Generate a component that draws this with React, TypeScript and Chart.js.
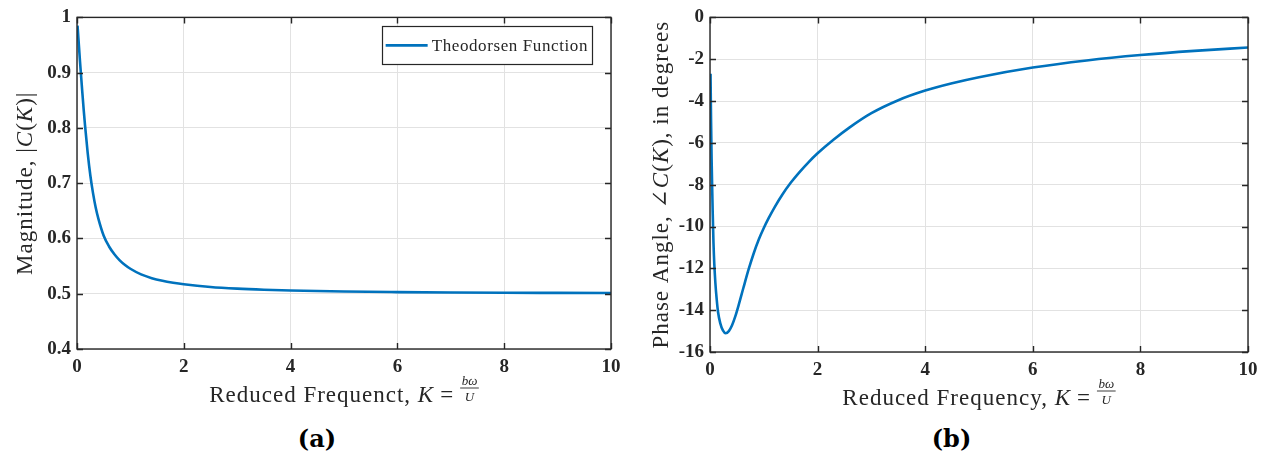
import React, { useEffect, useRef } from "react";
import { Chart, registerables } from "chart.js";

Chart.register(...registerables);

// ---------- data ----------
const magK = [0.01, 0.02, 0.03, 0.04, 0.055, 0.075, 0.1, 0.125, 0.15, 0.2, 0.25, 0.3, 0.35, 0.4, 0.5, 0.6, 0.7, 0.8, 0.9, 1.0, 1.2, 1.4, 1.6, 1.8, 2.0, 2.5, 3.0, 3.5, 4.0, 5.0, 6.0, 7.0, 8.0, 9.0, 10.0];
const magValues = [0.985, 0.971, 0.957, 0.943, 0.922, 0.896, 0.864, 0.833, 0.805, 0.755, 0.714, 0.682, 0.656, 0.636, 0.605, 0.5855, 0.5715, 0.5605, 0.552, 0.5452, 0.535, 0.5282, 0.5235, 0.52, 0.5172, 0.5122, 0.5092, 0.5072, 0.5058, 0.504, 0.503, 0.5023, 0.5018, 0.5015, 0.5012];

const phaseK = [0.01, 0.015, 0.02, 0.03, 0.04, 0.05, 0.065, 0.08, 0.1, 0.125, 0.15, 0.19, 0.24, 0.29, 0.35, 0.41, 0.47, 0.53, 0.62, 0.72, 0.81, 0.91, 1.0, 1.09, 1.2, 1.34, 1.5, 1.66, 1.83, 2.0, 2.3, 2.59, 3.0, 3.5, 4.0, 4.5, 5.0, 6.0, 7.0, 8.0, 9.0, 10.0];
const phaseValues = [-2.7, -3.9, -5.0, -6.8, -8.1, -9.3, -10.8, -11.8, -12.7, -13.5, -14.1, -14.62, -14.97, -15.1, -15.0, -14.72, -14.3, -13.78, -12.94, -12.03, -11.3, -10.6, -10.07, -9.6, -9.08, -8.49, -7.91, -7.41, -6.93, -6.5, -5.84, -5.27, -4.58, -3.96, -3.5, -3.15, -2.86, -2.4, -2.06, -1.8, -1.6, -1.44];

const xTicks = [0, 2, 4, 6, 8, 10];
const magTicks = [0.4, 0.5, 0.6, 0.7, 0.8, 0.9, 1];
const phaseTicks = [-16, -14, -12, -10, -8, -6, -4, -2, 0];

const seriesLabel = "Theodorsen Function";
const captions = ["(a)", "(b)"];

// ---------- styles ----------
const LINE_COLOR = "#0072BD";
const AXIS_COLOR = "#262626";
const GRID_COLOR = "#e2e2e2";
const TICK_FONT = { family: "'Liberation Serif', 'Times New Roman', serif", size: 19, weight: "bold" as const };
const TITLE_FAMILY = "'Liberation Serif', 'DejaVu Serif', serif";
const TITLE_SIZE = 23;
const TITLE_SPACING = "1px";

type Seg = { t?: string; it?: boolean; frac?: [string, string]; gap?: number };

function setFont(ctx: CanvasRenderingContext2D, s: Seg) {
  if (s.frac) {
    ctx.font = `italic 13px ${TITLE_FAMILY}`;
    (ctx as any).letterSpacing = "0px";
  } else {
    ctx.font = `${s.it ? "italic " : ""}${TITLE_SIZE}px ${TITLE_FAMILY}`;
    (ctx as any).letterSpacing = TITLE_SPACING;
  }
}

function segWidth(ctx: CanvasRenderingContext2D, s: Seg): number {
  if (s.gap) return s.gap;
  setFont(ctx, s);
  if (s.frac) {
    return Math.max(ctx.measureText(s.frac[0]).width, ctx.measureText(s.frac[1]).width) + 3;
  }
  return ctx.measureText(s.t || "").width;
}

function drawMixed(ctx: CanvasRenderingContext2D, segs: Seg[], cx: number, baseline: number) {
  const total = segs.reduce((a, s) => a + segWidth(ctx, s), 0);
  let x = cx - total / 2;
  ctx.fillStyle = AXIS_COLOR;
  ctx.textBaseline = "alphabetic";
  ctx.textAlign = "left";
  for (const s of segs) {
    const w = segWidth(ctx, s);
    if (s.gap) {
      x += w;
      continue;
    }
    setFont(ctx, s);
    if (s.frac) {
      ctx.textAlign = "center";
      ctx.fillText(s.frac[0], x + w / 2, baseline - 17);
      ctx.fillText(s.frac[1], x + w / 2, baseline - 1);
      ctx.strokeStyle = AXIS_COLOR;
      ctx.lineWidth = 0.9;
      ctx.beginPath();
      ctx.moveTo(x, baseline - 14);
      ctx.lineTo(x + w, baseline - 14);
      ctx.stroke();
      ctx.textAlign = "left";
    } else {
      ctx.fillText(s.t || "", x, baseline);
    }
    x += w;
  }
  (ctx as any).letterSpacing = "0px";
}

const decorPlugin = {
  id: "decor",
  afterDraw(chart: any, _args: any, opts: any) {
    const { ctx, chartArea: a, scales } = chart;
    ctx.save();
    // frame
    ctx.strokeStyle = AXIS_COLOR;
    ctx.lineWidth = 1.4;
    ctx.strokeRect(a.left, a.top, a.right - a.left, a.bottom - a.top);
    // inward ticks on all sides
    const tl = 6;
    ctx.beginPath();
    scales.x.ticks.forEach((t: any) => {
      const px = Math.round(scales.x.getPixelForValue(t.value)) + 0.5;
      ctx.moveTo(px, a.bottom);
      ctx.lineTo(px, a.bottom - tl);
      ctx.moveTo(px, a.top);
      ctx.lineTo(px, a.top + tl);
    });
    scales.y.ticks.forEach((t: any) => {
      const py = Math.round(scales.y.getPixelForValue(t.value)) + 0.5;
      ctx.moveTo(a.left, py);
      ctx.lineTo(a.left + tl, py);
      ctx.moveTo(a.right, py);
      ctx.lineTo(a.right - tl, py);
    });
    ctx.stroke();

    // x title
    drawMixed(ctx, opts.xTitle, (a.left + a.right) / 2, a.bottom + opts.xTitleOffset);
    // y title (rotated)
    ctx.save();
    ctx.translate(a.left - opts.yTitleOffset, (a.top + a.bottom) / 2);
    ctx.rotate(-Math.PI / 2);
    drawMixed(ctx, opts.yTitle, 0, 8);
    ctx.restore();

    // legend
    if (opts.legend) {
      const ds = chart.data.datasets[0];
      ctx.font = `17px ${TITLE_FAMILY}`;
      (ctx as any).letterSpacing = "0.6px";
      const tw = ctx.measureText(ds.label).width;
      const w = 4 + 42 + 4 + tw + 4;
      const h = 38;
      const right = a.right - 19;
      const left = right - w;
      const top = a.top + 9;
      ctx.fillStyle = "#ffffff";
      ctx.fillRect(left, top, w, h);
      ctx.strokeStyle = AXIS_COLOR;
      ctx.lineWidth = 1.2;
      ctx.strokeRect(Math.round(left) + 0.5, Math.round(top) + 0.5, Math.round(w), h);
      ctx.strokeStyle = ds.borderColor;
      ctx.lineWidth = 2.6;
      ctx.beginPath();
      ctx.moveTo(left + 4, top + h / 2);
      ctx.lineTo(left + 46, top + h / 2);
      ctx.stroke();
      ctx.fillStyle = AXIS_COLOR;
      ctx.textBaseline = "middle";
      ctx.textAlign = "left";
      ctx.fillText(ds.label, left + 50, top + h / 2 + 1);
      (ctx as any).letterSpacing = "0px";
    }
    ctx.restore();
  },
};

function makeConfig(p: {
  xs: number[]; ys: number[]; yTicks: number[]; yMin: number; yMax: number;
  yWidth: number; xHeight: number; padRight: number;
  xTitle: Seg[]; yTitle: Seg[]; yTitleOffset: number; legend: boolean;
}): any {
  return {
    type: "line",
    data: {
      datasets: [
        {
          label: seriesLabel,
          data: p.xs.map((x, i) => ({ x, y: p.ys[i] })),
          borderColor: LINE_COLOR,
          borderWidth: 2.6,
          pointRadius: 0,
          fill: false,
          cubicInterpolationMode: "monotone",
        },
      ],
    },
    options: {
      responsive: false,
      animation: false,
      devicePixelRatio: 1,
      layout: { padding: { top: 13, right: p.padRight, left: 0, bottom: 0 } },
      plugins: {
        legend: { display: false },
        tooltip: { enabled: false },
        decor: {
          xTitle: p.xTitle,
          yTitle: p.yTitle,
          xTitleOffset: 53,
          yTitleOffset: p.yTitleOffset,
          legend: p.legend,
        },
      },
      scales: {
        x: {
          type: "linear",
          min: 0,
          max: 10,
          afterBuildTicks: (s: any) => { s.ticks = xTicks.map((v) => ({ value: v })); },
          afterFit: (s: any) => { s.height = p.xHeight; },
          ticks: { font: TICK_FONT, color: AXIS_COLOR, padding: 7, maxRotation: 0, callback: (v: any) => String(v) },
          grid: { color: GRID_COLOR, lineWidth: 1, drawTicks: false },
          border: { display: false },
        },
        y: {
          type: "linear",
          min: p.yMin,
          max: p.yMax,
          afterBuildTicks: (s: any) => { s.ticks = p.yTicks.map((v) => ({ value: v })); },
          afterFit: (s: any) => { s.width = p.yWidth; },
          ticks: { font: TICK_FONT, color: AXIS_COLOR, padding: 6, callback: (v: any) => String(Math.round(v * 10) / 10) },
          grid: { color: GRID_COLOR, lineWidth: 1, drawTicks: false },
          border: { display: false },
        },
      },
    },
    plugins: [decorPlugin],
  };
}

export default function App() {
  const leftRef = useRef<HTMLCanvasElement>(null);
  const rightRef = useRef<HTMLCanvasElement>(null);

  useEffect(() => {
    document.body.style.margin = "0";
    const left = new Chart(
      leftRef.current as HTMLCanvasElement,
      makeConfig({
        xs: magK, ys: magValues, yTicks: magTicks, yMin: 0.4, yMax: 1,
        yWidth: 77, xHeight: 418 - 349, padRight: 23,
        xTitle: [{ t: "Reduced Frequenct, " }, { t: "K", it: true }, { gap: 6 }, { t: "=" }, { gap: 6 }, { frac: ["bω", "U"] }],
        yTitle: [{ t: "Magnitude, |" }, { t: "C", it: true }, { t: "(" }, { t: "K", it: true }, { t: ")|" }],
        yTitleOffset: 53,
        legend: true,
      })
    );
    const right = new Chart(
      rightRef.current as HTMLCanvasElement,
      makeConfig({
        xs: phaseK, ys: phaseValues, yTicks: phaseTicks, yMin: -16, yMax: 0,
        yWidth: 76, xHeight: 418 - 352, padRight: 21,
        xTitle: [{ t: "Reduced Frequency, " }, { t: "K", it: true }, { gap: 6 }, { t: "=" }, { gap: 6 }, { frac: ["bω", "U"] }],
        yTitle: [{ t: "Phase Angle, ∠" }, { t: "C", it: true }, { t: "(" }, { t: "K", it: true }, { t: "), in degrees" }],
        yTitleOffset: 50,
        legend: false,
      })
    );
    return () => {
      left.destroy();
      right.destroy();
    };
  }, []);

  const captionStyle: React.CSSProperties = {
    position: "absolute",
    top: 421,
    font: "bold 24px 'DejaVu Serif', serif",
    color: "#000",
    textAlign: "center",
    lineHeight: "36px",
  };

  return (
    <div style={{ position: "relative", width: 1269, height: 458, background: "#fff", overflow: "hidden" }}>
      <canvas ref={leftRef} width={634} height={418} style={{ position: "absolute", left: 0, top: 0 }} />
      <canvas ref={rightRef} width={635} height={418} style={{ position: "absolute", left: 634, top: 0 }} />
      <div style={{ ...captionStyle, left: 0, width: 634 }}>{captions[0]}</div>
      <div style={{ ...captionStyle, left: 634, width: 635 }}>{captions[1]}</div>
    </div>
  );
}
